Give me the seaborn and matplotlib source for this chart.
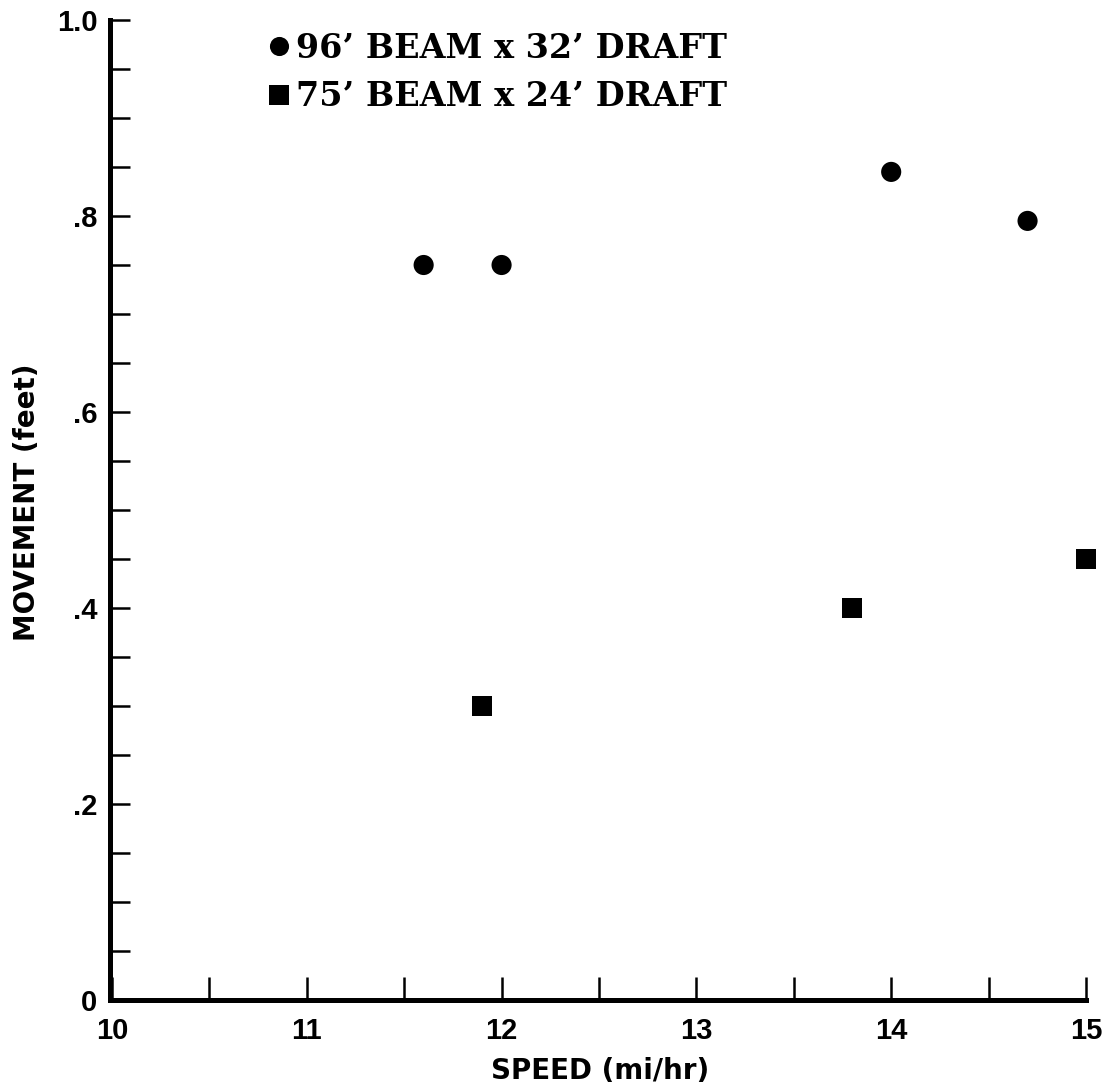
import matplotlib
matplotlib.use("Agg")
import matplotlib.pyplot as plt
from matplotlib.ticker import MultipleLocator, FixedLocator, FixedFormatter
import seaborn as sns
import pandas as pd

# Measured movement vs. speed for two vessel sizes
series_labels = ["96\u2019 BEAM x 32\u2019 DRAFT", "75\u2019 BEAM x 24\u2019 DRAFT"]
large_speed = [11.6, 12.0, 14.0, 14.7]
large_movement = [0.75, 0.75, 0.845, 0.795]
small_speed = [11.9, 13.8, 15.0]
small_movement = [0.30, 0.40, 0.45]

x_major = [10, 11, 12, 13, 14, 15]
x_labels = ["10", "11", "12", "13", "14", "15"]
y_major = [0.0, 0.2, 0.4, 0.6, 0.8, 1.0]
y_labels = ["0", ".2", ".4", ".6", ".8", "1.0"]

df = pd.DataFrame({
    "speed": large_speed + small_speed,
    "movement": large_movement + small_movement,
    "vessel": [series_labels[0]] * len(large_speed) + [series_labels[1]] * len(small_speed),
})

sns.set_style("white")
plt.rcParams["font.family"] = ["Liberation Sans", "DejaVu Sans"]
plt.rcParams.update({
    "text.color": "black",
    "axes.labelcolor": "black",
    "xtick.color": "black",
    "ytick.color": "black",
})

fig = plt.figure(figsize=(11.10, 10.87), dpi=100)
ax = fig.add_axes([110 / 1110, 87 / 1087, 976 / 1110, 980 / 1087])

sns.scatterplot(
    data=df, x="speed", y="movement", hue="vessel", style="vessel",
    palette={series_labels[0]: "black", series_labels[1]: "black"},
    markers={series_labels[0]: "o", series_labels[1]: "s"},
    s=210, linewidth=0, edgecolor="none", clip_on=False, zorder=5, ax=ax,
)

ax.set_xlim(9.99, 15.0)
ax.set_ylim(0.0, 1.0)

for side in ("top", "right"):
    ax.spines[side].set_visible(False)
for side in ("left", "bottom"):
    ax.spines[side].set_linewidth(3.6)
    ax.spines[side].set_color("black")
    ax.spines[side].set_capstyle("projecting")

ax.xaxis.set_major_locator(FixedLocator(x_major))
ax.xaxis.set_major_formatter(FixedFormatter(x_labels))
ax.xaxis.set_minor_locator(MultipleLocator(0.5))
ax.yaxis.set_major_locator(FixedLocator(y_major))
ax.yaxis.set_major_formatter(FixedFormatter(y_labels))
ax.yaxis.set_minor_locator(MultipleLocator(0.05))

ax.tick_params(axis="x", which="both", bottom=True, direction="in", length=16.5,
               width=1.8, color="black", pad=12, labelsize=21, labelcolor="black")
ax.tick_params(axis="y", which="both", left=True, direction="in", length=14.5,
               width=1.8, color="black", pad=9, labelsize=21, labelcolor="black")
for lab in ax.get_xticklabels() + ax.get_yticklabels():
    lab.set_fontweight("bold")

label_font = {"family": "DejaVu Sans", "weight": "bold", "size": 20}
ax.set_xlabel("SPEED (mi/hr)", fontdict=label_font)
ax.set_ylabel("MOVEMENT (feet)", fontdict=label_font)
ax.xaxis.set_label_coords(0.502, -0.058)
ax.yaxis.set_label_coords(-0.071, 0.508)

leg = ax.legend(
    loc="upper left", bbox_to_anchor=(0.156, 0.988), frameon=False,
    prop={"family": "DejaVu Serif", "weight": "bold", "size": 24},
    handletextpad=0.0, handlelength=1.0, labelspacing=0.47, markerscale=0.95,
    borderaxespad=0.0, borderpad=0.0,
)
for t in leg.get_texts():
    t.set_color("black")

fig.savefig("out.png", dpi=100, facecolor="white")
